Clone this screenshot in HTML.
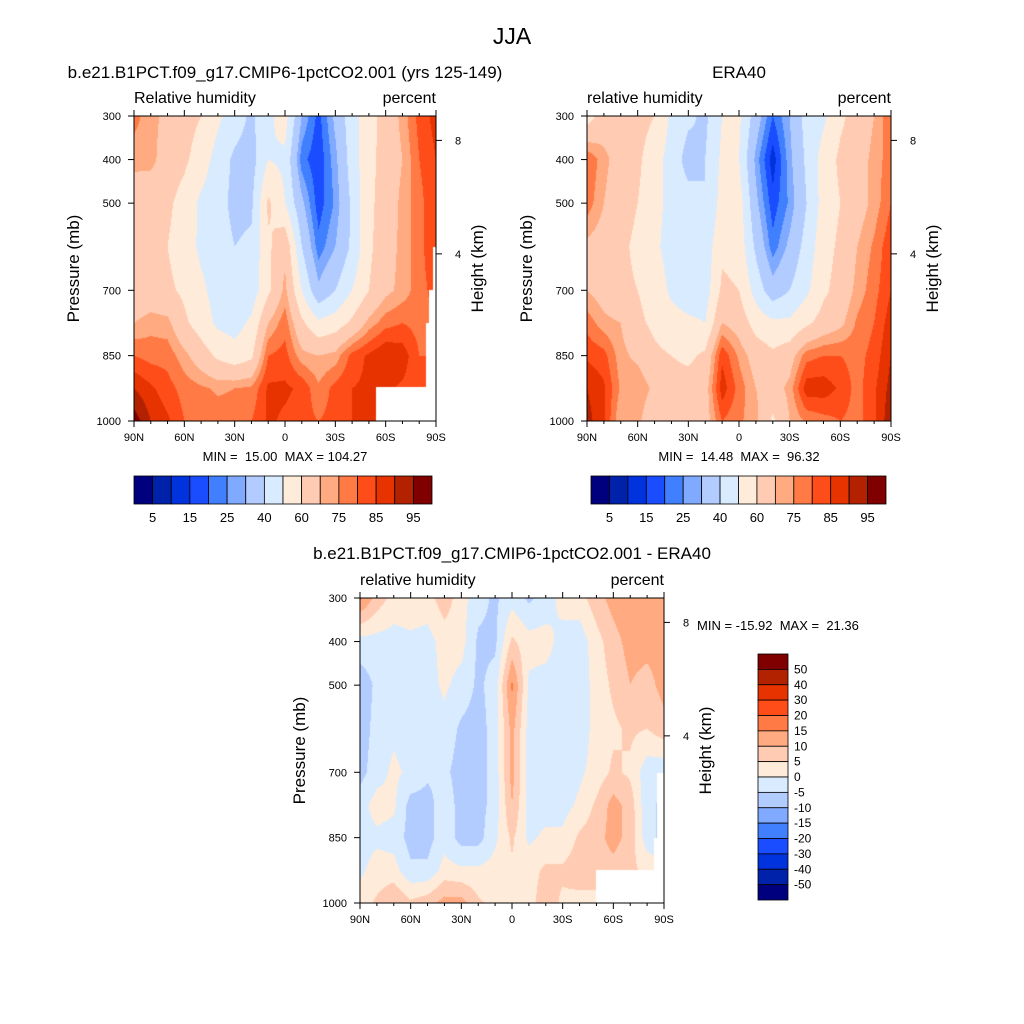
<!DOCTYPE html>
<html><head><meta charset="utf-8">
<style>
body{margin:0;background:#fff;}
#wrap{position:relative;width:1024px;height:1024px;overflow:hidden;background:#fff;font-family:"Liberation Sans",sans-serif;}
canvas{position:absolute;}
svg{position:absolute;left:0;top:0;}
svg text{white-space:pre;}
</style></head>
<body>
<div id="wrap">
<canvas id="c1"></canvas>
<canvas id="c2"></canvas>
<canvas id="c3"></canvas>
<svg id="ov" width="1024" height="1024"></svg>
</div>
<script>
const lats=[90,80,70,60,50,40,30,20,10,0,-10,-20,-30,-40,-50,-60,-70,-80,-90];
const pres=[300,400,500,600,700,775,850,925,1000];
const rhModel=[
[77,72,68,64,60,52,45,38,48,54,30,18,32,46,56,64,72,82,87],
[72,72,66,62,55,46,38,36,50,48,22,16,28,45,57,64,70,80,85],
[65,64,62,56,48,44,37,38,62,50,32,17,26,42,58,64,72,78,85],
[62,62,60,55,48,45,40,42,58,68,40,22,30,42,58,66,72,78,85],
[62,64,62,58,52,46,42,44,58,72,50,32,40,50,60,68,72,78,82],
[70,73,72,62,55,48,46,52,70,78,62,52,55,62,72,78,80,78,80],
[80,78,78,72,65,58,54,58,80,82,72,70,72,82,86,90,88,80,80],
[90,86,82,78,76,74,75,76,86,86,84,76,82,85,86,86,84,82,82],
[98,90,86,80,80,78,78,80,86,84,82,80,82,85,85,85,84,82,82]];
const rhEra=[
[55,65,66,64,60,48,42,38,50,52,35,20,30,44,48,58,64,70,80],
[80,72,66,62,54,46,36,40,52,50,28,12,28,42,54,62,66,72,78],
[78,70,64,60,54,46,44,40,54,55,32,17,26,40,54,60,66,72,80],
[68,66,62,58,52,46,44,44,58,56,38,22,32,44,56,62,70,76,84],
[70,66,62,60,56,48,44,45,62,60,46,34,40,48,58,64,72,78,85],
[78,72,70,62,58,54,52,50,70,66,56,52,52,58,64,68,76,80,88],
[84,82,72,68,62,60,58,62,84,74,66,62,66,78,80,80,78,82,90],
[90,86,74,75,68,64,64,66,88,78,70,66,72,88,88,84,78,84,92],
[92,86,70,72,62,64,62,66,80,76,72,58,70,76,78,80,78,84,94]];
const rhDiff=[
[16,8,3,3,3,8,2,-3,-6,-2,-6,-3,2,3,8,12,14,12,12],
[-2,-2,-2,-1,-2,2,2,-6,-6,6,2,2,-2,-3,3,8,12,12,12],
[-8,-4,-2,-1,-2,1,-2,-6,-3,16,-1,-2,-3,-3,2,6,10,8,12],
[-8,-3,-1,-3,-3,-2,-6,-7,-3,12,-2,-3,-3,-3,2,4,6,5,8],
[-7,-2,1,-1,-4,-4,-7,-7,-3,12,-2,-3,-2,-1,2,6,4,-3,-4],
[-2,2,1,-7,-7,-2,-7,-7,-3,10,-2,-2,-2,1,6,12,8,-4,-6],
[-2,-1,-2,-7,-7,-2,-7,-7,-1,6,-1,1,1,6,8,12,8,-3,-7],
[-1,2,2,-4,-4,2,1,1,2,4,3,6,6,8,8,8,6,4,4],
[2,6,10,6,8,12,12,6,3,2,3,8,4,3,3,3,3,3,3]];
const levelsRH=[5,10,15,20,25,30,40,50,60,70,75,80,85,90,95];
const levelsDiff=[-50,-40,-30,-20,-15,-10,-5,0,5,10,15,20,30,40,50];
const labelsRH=["5","15","25","40","60","75","85","95"];
const labelsDiff=["50","40","30","20","15","10","5","0","-5","-10","-15","-20","-30","-40","-50"];
const colors=["#00007F","#0022AA","#0033DD","#1A4DFF","#4080FF","#80AAFF","#B3CCFF","#D9EBFF","#FFEBD9","#FFCCB3","#FFAA80","#FF7A45","#FF4D1A","#E63300","#B32200","#800000"];
const latTicks=["90N","60N","30N","0","30S","60S","90S"];
const latTickVals=[90,60,30,0,-30,-60,-90];
const presTicks=[300,400,500,700,850,1000];
const kmTicks=[8,4];
const mask1=[[-54,-90,922,1000],[-88,-90,600,1000],[-86,-90,700,1000],[-84,-90,776,1000]];
const mask3=[[-50,-90,924,1000],[-86,-90,702,1000],[-84,-90,850,1000]];

const P1={x:134,y:116,w:302,h:305},P2={x:587,y:116,w:304,h:305},P3={x:360,y:598,w:304,h:305};
function xOf(P,lat){return P.x+(90-lat)/180*P.w;}
function yOf(P,p){return P.y+(p-300)/700*P.h;}
function kmToP(z){return 1013.25*Math.pow(1-2.25577e-5*z*1000,5.25588);}

function sample(grid,lat,p){
  let fc=(90-lat)/10; let c0=Math.min(17,Math.floor(fc)); let tc=fc-c0;
  let r0=0; while(r0<pres.length-2 && p>pres[r0+1]) r0++;
  let tr=(p-pres[r0])/(pres[r0+1]-pres[r0]);
  const a=grid[r0][c0],b=grid[r0][c0+1],c=grid[r0+1][c0],d=grid[r0+1][c0+1];
  return (a*(1-tc)+b*tc)*(1-tr)+(c*(1-tc)+d*tc)*tr;
}
function hex(h){return [parseInt(h.substr(1,2),16),parseInt(h.substr(3,2),16),parseInt(h.substr(5,2),16)];}
const rgb=colors.map(hex);
function fill(id,P,grid,levels,masks){
  const cv=document.getElementById(id);
  cv.width=P.w;cv.height=P.h;cv.style.left=P.x+'px';cv.style.top=P.y+'px';
  const ctx=cv.getContext('2d');const img=ctx.createImageData(P.w,P.h);
  for(let py=0;py<P.h;py++){
    const p=300+(py+0.5)/P.h*700;
    for(let px=0;px<P.w;px++){
      const lat=90-(px+0.5)/P.w*180;
      const v=sample(grid,lat,p);
      let k=0;while(k<levels.length&&v>=levels[k])k++;
      let col=rgb[k];
      for(const m of masks){ if(lat<=m[0]&&lat>=m[1]&&p>=m[2]&&p<=m[3]) col=[255,255,255]; }
      const i=(py*P.w+px)*4;img.data[i]=col[0];img.data[i+1]=col[1];img.data[i+2]=col[2];img.data[i+3]=255;
    }
  }
  ctx.putImageData(img,0,0);
}
fill('c1',P1,rhModel,levelsRH,mask1);
fill('c2',P2,rhEra,levelsRH,[]);
fill('c3',P3,rhDiff,levelsDiff,mask3);

const svg=document.getElementById('ov');const NS='http://www.w3.org/2000/svg';
function el(tag,attrs,parent){const e=document.createElementNS(NS,tag);for(const k in attrs)e.setAttribute(k,attrs[k]);(parent||svg).appendChild(e);return e;}
function txt(x,y,s,size,anchor,name,rot){
  const t=el('text',{x:x,y:y,'font-size':size,'text-anchor':anchor||'start','font-family':'Liberation Sans, sans-serif',fill:'#000'});
  if(rot)t.setAttribute('transform','rotate(-90 '+x+' '+y+')');
  t.textContent=s;
  
  
  return t;
}
function axes(P,pfx,lt,rt){
  const g=el('g',{});
  
  
  el('rect',{x:P.x,y:P.y,width:P.w,height:P.h,fill:'none',stroke:'#000','stroke-width':1},g);
  for(let lat=90;lat>=-90;lat-=10){
    const x=xOf(P,lat);const L=(lat%30===0)?6:3;
    el('line',{x1:x,x2:x,y1:P.y,y2:P.y-L,stroke:'#000'},g);
    el('line',{x1:x,x2:x,y1:P.y+P.h,y2:P.y+P.h+L,stroke:'#000'},g);
  }
  latTickVals.forEach((v,i)=>{txt(xOf(P,v),P.y+P.h+20,latTicks[i],11,'middle',pfx+'-x-tick-label');});
  presTicks.forEach(p=>{const y=yOf(P,p);el('line',{x1:P.x,x2:P.x-6,y1:y,y2:y,stroke:'#000'},g);
    txt(P.x-13,y+4,String(p),11,'end',pfx+'-y-tick-label');});
  kmTicks.forEach(z=>{const y=yOf(P,kmToP(z));el('line',{x1:P.x+P.w,x2:P.x+P.w+6,y1:y,y2:y,stroke:'#000'},g);
    txt(P.x+P.w+19,y+4,String(z),11,'start',pfx+'-height-tick-label');});
  txt(P.x-55,P.y+P.h/2,'Pressure (mb)',17,'middle',pfx+'-y-axis-title',true);
  txt(P.x+P.w+47,P.y+P.h/2,'Height (km)',17,'middle',pfx+'-height-axis-title',true);
  txt(P.x,P.y-13,lt,16,'start',pfx+'-variable-label');
  txt(P.x+P.w,P.y-13,rt,16,'end',pfx+'-units-label');
}
axes(P1,'model','Relative humidity','percent');
axes(P2,'era40','relative humidity','percent');
axes(P3,'diff','relative humidity','percent');
txt(512,44,'JJA',23,'middle','figure-title');
txt(285,78,'b.e21.B1PCT.f09_g17.CMIP6-1pctCO2.001 (yrs 125-149)',17,'middle','model-panel-title');
txt(739,78,'ERA40',17,'middle','era40-panel-title');
txt(512,559,'b.e21.B1PCT.f09_g17.CMIP6-1pctCO2.001 - ERA40',17,'middle','diff-panel-title');
txt(285,461,'MIN =  15.00  MAX = 104.27',13,'middle','model-min-max');
txt(739,461,'MIN =  14.48  MAX =  96.32',13,'middle','era40-min-max');
txt(697,630,'MIN = -15.92  MAX =  21.36',13,'start','diff-min-max');

function hbar(x0,y0,w,h,pfx){
  const n=colors.length,bw=w/n;
  for(let i=0;i<n;i++){
    const r=el('rect',{x:x0+i*bw,y:y0,width:bw,height:h,fill:colors[i],stroke:'#000','stroke-width':0.8});
    
    
  }
  labelsRH.forEach((s,j)=>{txt(x0+(2*j+1)*bw,y0+h+18,s,13,'middle',pfx+'-colorbar-label');});
}
hbar(134,476,298,28,'model');
hbar(591,476,295,28,'era40');
(function(){
  const x0=758,y0=654,w=30,h=246,n=colors.length,bh=h/n;
  for(let i=0;i<n;i++){
    const r=el('rect',{x:x0,y:y0+i*bh,width:w,height:bh,fill:colors[n-1-i],stroke:'#000','stroke-width':0.8});
    
    
  }
  labelsDiff.forEach((s,j)=>{txt(x0+w+6,y0+(j+1)*bh+4,s,12,'start','diff-colorbar-label');});
})();
</script>
</body></html>
